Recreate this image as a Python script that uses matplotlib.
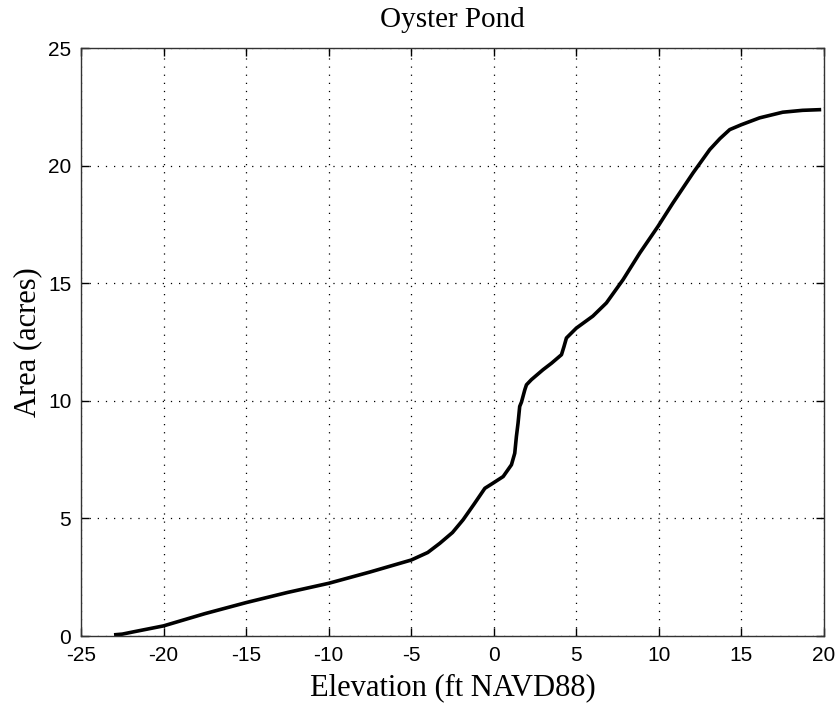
import matplotlib
matplotlib.use("Agg")
import matplotlib.pyplot as plt

# Stage-area curve for Oyster Pond
elevation_ft = [-23.0, -22.5, -21.8, -20.0, -17.5, -15.0, -12.5, -10.0, -7.5, -5.0,
                -4.0, -3.27, -2.5, -1.86, -1.2, -0.54, 0.0, 0.57, 1.07, 1.27,
                1.37, 1.47, 1.57, 1.68, 1.88, 1.98, 2.28, 2.98, 3.5, 4.1,
                4.25, 4.4, 5.0, 6.0, 6.82, 7.83, 8.84, 9.95, 10.85, 12.07,
                13.08, 13.7, 14.29, 15.0, 16.1, 17.5, 18.7, 19.83]
area_acres = [0.05, 0.08, 0.18, 0.43, 0.95, 1.42, 1.85, 2.24, 2.72, 3.23,
              3.55, 3.94, 4.4, 4.94, 5.6, 6.28, 6.52, 6.78, 7.28, 7.77,
              8.48, 9.05, 9.76, 9.95, 10.47, 10.68, 10.9, 11.32, 11.6, 11.96,
              12.3, 12.67, 13.09, 13.6, 14.16, 15.15, 16.28, 17.42, 18.41, 19.69,
              20.68, 21.15, 21.53, 21.74, 22.03, 22.27, 22.35, 22.38]

x_ticks = [-25, -20, -15, -10, -5, 0, 5, 10, 15, 20]
y_ticks = [0, 5, 10, 15, 20, 25]

tick_font = "Liberation Sans"
label_font = "Liberation Serif"

fig = plt.figure(figsize=(8.36, 7.06), dpi=100)
ax = fig.add_axes([81 / 836, 70 / 706, 743 / 836, 588 / 706])

ax.plot(elevation_ft, area_acres, color="black", linewidth=2.6,
        solid_joinstyle="round", solid_capstyle="butt")

ax.set_xlim(-25, 20)
ax.set_ylim(0, 25)
ax.set_xticks(x_ticks)
ax.set_yticks(y_ticks)
ax.set_xticklabels([str(v) for v in x_ticks], fontfamily=tick_font, fontsize=15)
ax.set_yticklabels([str(v) for v in y_ticks], fontfamily=tick_font, fontsize=15)

ax.grid(True, color="black", linestyle=(0, (1, 5.5)), linewidth=0.9)
ax.tick_params(direction="in", length=6, width=1, top=True, right=True,
               colors="black")
ax.tick_params(axis="x", pad=7)
ax.tick_params(axis="y", pad=7)
for s in ax.spines.values():
    s.set_linewidth(1.0)
    s.set_color("#333333")

ax.set_title("Oyster Pond", fontfamily=label_font, fontsize=21, pad=15)
ax.set_xlabel("Elevation (ft NAVD88)", fontfamily=label_font, fontsize=22, labelpad=6)
ax.set_ylabel("Area (acres)", fontfamily=label_font, fontsize=22, labelpad=4)

fig.savefig("out.png", dpi=100, facecolor="white")
